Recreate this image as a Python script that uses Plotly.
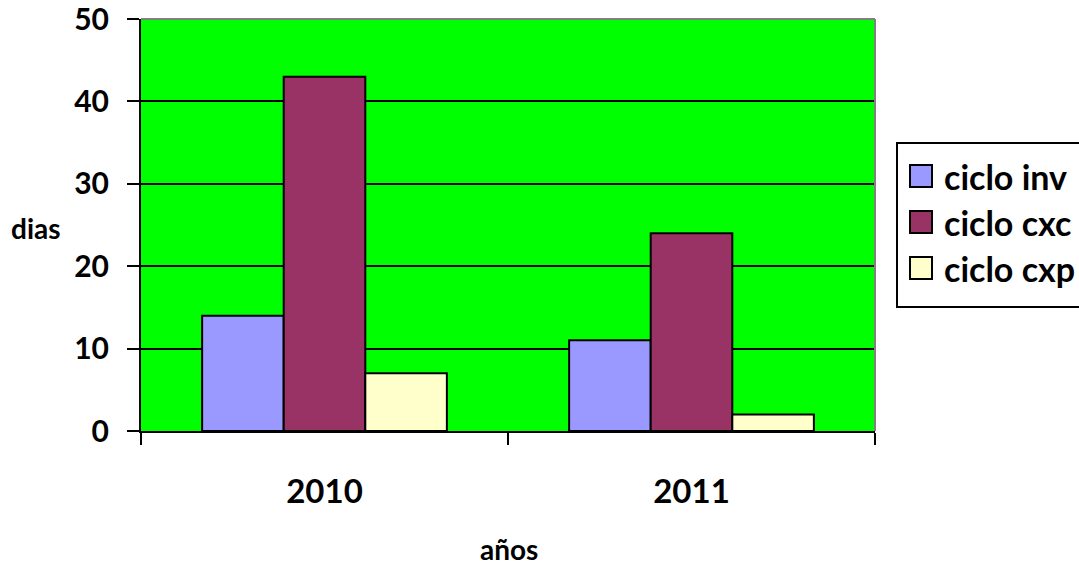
import plotly.graph_objects as go

# Chart data
years = ["2010", "2011"]
series_names = ["ciclo inv", "ciclo cxc", "ciclo cxp"]
ciclo_inv = [14, 11]
ciclo_cxc = [43, 24]
ciclo_cxp = [7, 2]
y_ticks = [0, 10, 20, 30, 40, 50]

colors = ["#9999FF", "#993366", "#FFFFCC"]
series_values = [ciclo_inv, ciclo_cxc, ciclo_cxp]

FONT = "Lato"

fig = go.Figure()
for name, vals, col in zip(series_names, series_values, colors):
    fig.add_trace(go.Bar(
        x=years, y=vals, name=name,
        marker=dict(color=col, line=dict(color="black", width=2)),
        showlegend=False,
    ))

W, H = 1079, 568
L, R, T, B = 141, 204, 19, 137
pw, ph = W - L - R, H - T - B


def px_x(px):
    return (px - L) / pw


def px_y(py):
    return (H - B - py) / ph


fig.update_layout(
    width=W, height=H,
    margin=dict(l=L, r=R, t=T, b=B, autoexpand=False),
    paper_bgcolor="white",
    plot_bgcolor="#00FF00",
    barmode="group",
    bargap=0.333,
    bargroupgap=0,
    font=dict(family=FONT, color="black"),
    xaxis=dict(
        type="category",
        tickson="boundaries",
        ticks="outside", ticklen=12, tickwidth=2, tickcolor="black",
        showline=True, linecolor="black", linewidth=2,
        showgrid=False,
        tickfont=dict(family=FONT, size=33, color="black", weight="bold"),
        ticklabelstandoff=30,
        automargin=False,
    ),
    yaxis=dict(
        range=[0, 50], tickvals=y_ticks,
        ticks="outside", ticklen=12, tickwidth=2, tickcolor="black",
        showline=True, linecolor="black", linewidth=2,
        showgrid=True, gridcolor="black", gridwidth=2,
        zeroline=False,
        tickfont=dict(family=FONT, size=30, color="black", weight="bold"),
        ticklabelstandoff=12,
        ticklabeloverflow="allow",
        automargin=False,
    ),
)

# grey frame on the top and right of the plotting area
fig.add_shape(type="line", xref="paper", yref="paper", x0=0, x1=1, y0=1, y1=1,
              line=dict(color="#808080", width=2))
fig.add_shape(type="line", xref="paper", yref="paper", x0=1, x1=1, y0=0, y1=1,
              line=dict(color="#808080", width=2))

# axis titles
fig.add_annotation(text="<b>dias</b>", xref="paper", yref="paper",
                   x=px_x(9), y=px_y(228), xanchor="left", showarrow=False,
                   font=dict(family=FONT, size=28, color="black"))
fig.add_annotation(text="<b>años</b>", xref="paper", yref="paper",
                   x=px_x(509), y=px_y(568), yanchor="bottom", showarrow=False,
                   font=dict(family=FONT, size=28, color="black"))

# legend box with swatches
fig.add_shape(type="rect", xref="paper", yref="paper",
              x0=px_x(897), x1=px_x(1090), y0=px_y(307), y1=px_y(143),
              line=dict(color="black", width=2), fillcolor="white")
item_centers = [176, 222, 268]
for name, col, cy in zip(series_names, colors, item_centers):
    fig.add_shape(type="rect", xref="paper", yref="paper",
                  x0=px_x(910), x1=px_x(932), y0=px_y(cy + 11), y1=px_y(cy - 11),
                  line=dict(color="black", width=2), fillcolor=col)
    fig.add_annotation(text=f"<b>{name}</b>", xref="paper", yref="paper",
                       x=px_x(942), y=px_y(cy), xanchor="left", yanchor="middle",
                       showarrow=False,
                       font=dict(family=FONT, size=34, color="black"))

fig.write_html("out.html")
